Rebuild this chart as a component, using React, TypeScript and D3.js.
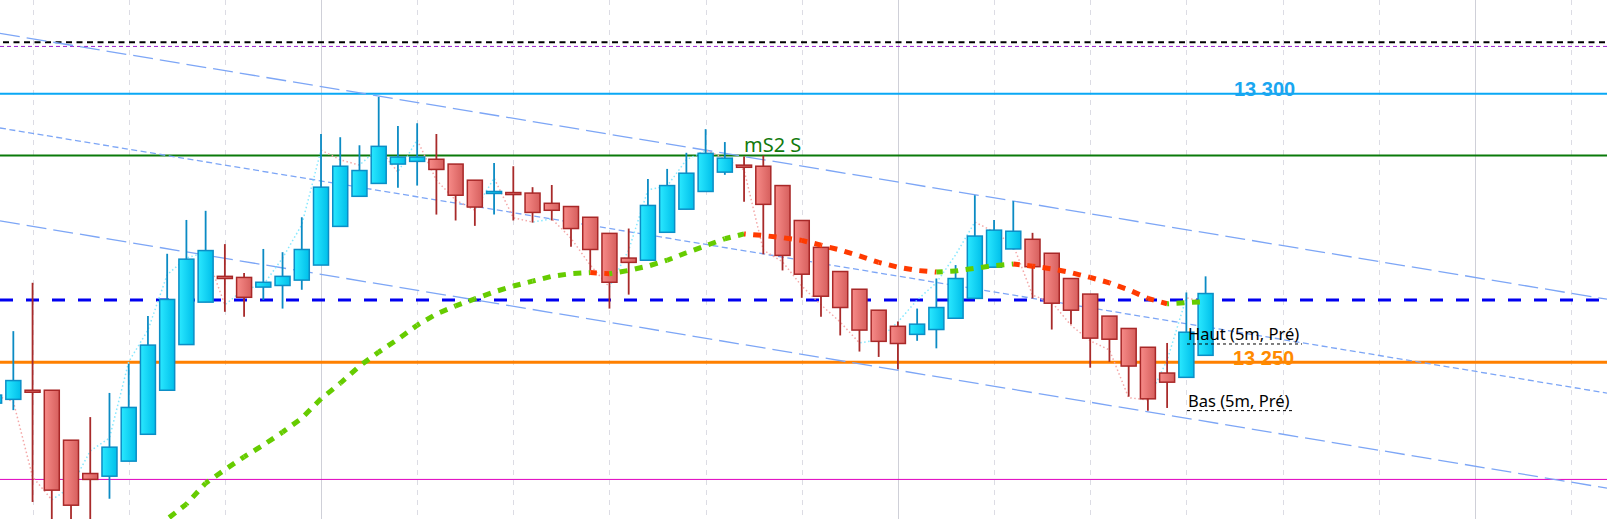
import React from "react";
import * as d3 from "d3";

const W = 1607;
const H = 519;

// candles, one per bar (index 0 = leftmost, partly cut)
const opens = [
  13242.4, 13243.1, 13244.8, 13244.8, 13235.5, 13229.3, 13228.8, 13231.6, 13236.6, 13244.8,
  13253.3, 13261.2, 13266.0, 13265.8, 13264.0, 13264.3, 13265.3, 13268.1, 13275.3, 13280.9,
  13283.3, 13286.9, 13287.4, 13287.8, 13286.9, 13283.9, 13281.5, 13281.6, 13281.5, 13279.6,
  13279.0, 13277.0, 13274.0, 13269.4, 13269.0, 13274.2, 13278.5, 13281.8, 13285.4, 13286.7,
  13286.5, 13282.9, 13276.4, 13271.4, 13266.9, 13263.6, 13259.7, 13256.7, 13255.2, 13256.1,
  13258.2, 13261.9, 13267.7, 13271.1, 13272.9, 13270.3, 13265.6, 13262.7, 13258.6, 13256.3,
  13252.8, 13248.0, 13247.2, 13251.3,
];
const highs = [
  13244.8, 13255.8, 13264.8, 13244.8, 13235.5, 13239.8, 13244.3, 13249.7, 13258.6, 13270.2,
  13276.5, 13278.2, 13272.0, 13266.6, 13271.1, 13270.5, 13277.0, 13292.5, 13291.9, 13290.4,
  13299.4, 13294.0, 13294.5, 13292.5, 13286.9, 13283.9, 13287.1, 13286.5, 13282.6, 13283.0,
  13279.0, 13277.0, 13274.0, 13274.9, 13284.1, 13286.0, 13289.0, 13293.4, 13291.0, 13288.3,
  13288.5, 13282.9, 13276.4, 13271.4, 13266.9, 13263.6, 13259.7, 13257.6, 13260.0, 13265.6,
  13268.1, 13281.1, 13276.5, 13280.0, 13274.1, 13270.3, 13265.6, 13262.7, 13258.6, 13256.3,
  13252.8, 13253.6, 13263.0, 13266.0,
];
const lows = [
  13241.5, 13241.1, 13224.0, 13219.7, 13218.8, 13219.7, 13224.6, 13231.6, 13236.6, 13244.8,
  13253.3, 13261.2, 13259.4, 13258.5, 13261.6, 13260.0, 13263.5, 13268.1, 13275.3, 13280.9,
  13283.3, 13282.5, 13282.9, 13277.5, 13276.4, 13275.4, 13277.5, 13276.4, 13276.0, 13276.4,
  13271.5, 13267.1, 13260.0, 13262.6, 13269.0, 13274.2, 13278.5, 13281.8, 13284.9, 13279.9,
  13270.1, 13267.1, 13262.0, 13258.5, 13255.0, 13252.0, 13251.0, 13248.7, 13254.0, 13252.6,
  13258.2, 13261.9, 13267.7, 13271.0, 13261.9, 13256.1, 13257.1, 13249.0, 13250.1, 13243.6,
  13241.0, 13241.5, 13247.2, 13251.3,
];
const closes = [
  13243.9, 13246.6, 13244.6, 13226.2, 13223.4, 13228.2, 13234.2, 13241.6, 13253.2, 13261.7,
  13269.2, 13270.8, 13265.6, 13262.1, 13264.9, 13266.0, 13271.0, 13282.6, 13286.5, 13285.7,
  13290.2, 13288.2, 13288.2, 13285.9, 13281.1, 13278.9, 13281.8, 13281.3, 13277.9, 13278.3,
  13274.9, 13271.0, 13264.9, 13268.6, 13279.2, 13282.9, 13285.2, 13288.9, 13288.0, 13286.3,
  13279.4, 13269.9, 13266.4, 13262.3, 13260.2, 13256.0, 13253.9, 13253.5, 13257.1, 13260.2,
  13265.6, 13273.5, 13274.6, 13274.4, 13267.8, 13261.0, 13259.7, 13254.5, 13254.3, 13249.3,
  13243.2, 13246.3, 13255.6, 13262.8,
];

// moving average, starts at bar 8
const maStart = 8;
const maValues = [
  13216.9, 13220.8, 13223.6, 13227.5, 13230.0, 13232.4, 13234.6, 13237.0, 13239.6, 13243.2,
  13246.1, 13249.3, 13251.9, 13254.3, 13256.9, 13259.0, 13260.5, 13261.8, 13263.1, 13264.2,
  13265.1, 13266.0, 13266.5, 13266.7, 13266.5, 13267.1, 13267.9, 13269.0, 13270.4, 13271.7,
  13273.0, 13273.9, 13273.6, 13273.2, 13272.7, 13271.8, 13270.9, 13269.8, 13268.6, 13267.7,
  13267.1, 13266.8, 13267.0, 13267.5, 13268.0, 13268.3, 13267.9, 13267.4, 13266.7, 13265.8,
  13264.8, 13263.5, 13261.9, 13260.9, 13261.1, 13261.3,
];

// thin dotted lower-timeframe line
const tickLine = [
  13243.9, 13242.7, 13228.7, 13224.4, 13226.8, 13233.5, 13235.9, 13250.1, 13256.0, 13266.3,
  13269.4, 13270.5, 13260.7, 13263.6, 13264.4, 13269.4, 13275.6, 13289.5, 13287.7, 13286.7,
  13289.9, 13285.4, 13291.4, 13283.9, 13280.2, 13278.3, 13284.3, 13276.9, 13276.1, 13276.7,
  13273.1, 13268.1, 13264.0, 13270.9, 13282.1, 13282.8, 13287.7, 13289.5, 13288.0, 13285.8,
  13270.9, 13268.7, 13264.2, 13260.7, 13257.5, 13253.6, 13254.2, 13257.5, 13261.6, 13264.8,
  13270.0, 13276.1, 13274.3, 13271.8, 13262.5, 13261.2, 13256.9, 13254.0, 13252.3, 13243.4,
  13243.0, 13250.4, 13262.0, 13261.2,
];

// horizontal levels
const levelPrices = [13309.6, 13308.8, 13300, 13288.5, 13261.6, 13250, 13228.2];

// channel lines: price at bar 0 and at bar 63
const channelStart = [13311.4, 13293.8, 13276.5];
const channelEnd = [13274.1, 13256.6, 13239.0];

const levelLabels = ["13 300", "13 250", "mS2 S"];
const markerLabels = ["Haut (5m, Pré)", "Bas (5m, Pré)"];
const markerPrices = [13253.5, 13241.1];

const x = d3.scaleLinear().domain([0, 83]).range([-5.9, -5.9 + 19.23 * 83]);
const y = d3.scaleLinear().domain([13250, 13300]).range([362.3, 93.7]);

const gridIdx = d3.range(2, 84, 5);

const levelStyles = [
  { stroke: "#000", w: 2, dash: "6 4.5" },
  { stroke: "#9b1fd0", w: 1, dash: "4 3" },
  { stroke: "#0aa8f5", w: 2, dash: null },
  { stroke: "#0a7a0a", w: 2, dash: null },
  { stroke: "#0000f0", w: 3, dash: "13 13" },
  { stroke: "#ff8000", w: 3, dash: null },
  { stroke: "#e000c0", w: 1, dash: null },
];

const channelDash = ["20 7", "6 3.5", "20 7"];

export default function App() {
  const barW = 15;
  const candles = opens.map((o, i) => ({ i, o, h: highs[i], l: lows[i], c: closes[i] }));

  const maPts = maValues.map((v, k) => [x(maStart + k), y(v)] as [number, number]);
  let acc = 0;
  const maSegs = maPts.slice(1).map((p, k) => {
    const a = maPts[k];
    const len = Math.hypot(p[0] - a[0], p[1] - a[1]);
    const seg = { a, b: p, off: acc, up: maValues[k + 1] >= maValues[k] };
    acc += len;
    return seg;
  });

  const tickPts = tickLine.map((v, i) => [x(i), y(v)] as [number, number]);
  let acc2 = 0;
  const tickSegs = tickPts.slice(1).map((p, k) => {
    const a = tickPts[k];
    const len = Math.hypot(p[0] - a[0], p[1] - a[1]);
    const seg = { a, b: p, off: acc2, up: tickLine[k + 1] >= tickLine[k] };
    acc2 += len;
    return seg;
  });

  const i0 = x.invert(0);
  const i1 = x.invert(W);

  return (
    <>
      <style>{`body{margin:0;overflow:hidden;background:#fff}`}</style>
      <svg width={W} height={H} style={{ display: "block" }} fontFamily="'Noto Sans', sans-serif">
        <defs>
          <linearGradient id="bull" x1="0" x2="1" y1="0" y2="0">
            <stop offset="0" stopColor="#2ae8ff" />
            <stop offset="1" stopColor="#00bfea" />
          </linearGradient>
          <linearGradient id="bear" x1="0" x2="1" y1="0" y2="0">
            <stop offset="0" stopColor="#f78b88" />
            <stop offset="1" stopColor="#d65f5d" />
          </linearGradient>
        </defs>
        <rect width={W} height={H} fill="#fff" />

        {gridIdx.map((g, k) => (
          <line
            key={"g" + g}
            x1={Math.round(x(g)) + 0.5}
            x2={Math.round(x(g)) + 0.5}
            y1={0}
            y2={H}
            stroke={k % 6 === 3 ? "#cfd0d8" : "#dcdce4"}
            strokeWidth={1}
            strokeDasharray={k % 6 === 3 ? undefined : "5 5"}
          />
        ))}

        {levelPrices.map((p, k) => {
          const s = levelStyles[k];
          return (
            <line
              key={"lv" + k}
              x1={k === 0 ? 3 : 0}
              x2={W}
              y1={y(p)}
              y2={y(p)}
              stroke={s.stroke}
              strokeWidth={s.w}
              strokeDasharray={s.dash || undefined}
            />
          );
        })}

        {channelStart.map((s, k) => {
          const e = channelEnd[k];
          const f = (i: number) => s + ((e - s) * i) / 63;
          return (
            <line
              key={"ch" + k}
              x1={x(i0)}
              y1={y(f(i0))}
              x2={x(i1)}
              y2={y(f(i1))}
              stroke="#7da6f6"
              strokeWidth={1.3}
              strokeDasharray={channelDash[k]}
            />
          );
        })}

        {tickSegs.map((s, k) => (
          <line
            key={"t" + k}
            x1={s.a[0]}
            y1={s.a[1]}
            x2={s.b[0]}
            y2={s.b[1]}
            stroke={s.up ? "#86e8ff" : "#f4a8a8"}
            strokeWidth={1.5}
            strokeDasharray="1.5 2.5"
            strokeDashoffset={s.off}
          />
        ))}

        {candles.map((d) => {
          const up = d.c >= d.o;
          const cx = x(d.i);
          const top = y(Math.max(d.o, d.c));
          const bot = y(Math.min(d.o, d.c));
          const hgt = Math.max(bot - top, 2);
          return (
            <g key={"c" + d.i}>
              <line
                x1={cx}
                x2={cx}
                y1={y(d.h)}
                y2={y(d.l)}
                stroke={up ? "#0b8bc4" : "#a82a2a"}
                strokeWidth={1.8}
              />
              <rect
                x={cx - barW / 2}
                y={top}
                width={barW}
                height={hgt}
                fill={up ? "url(#bull)" : "url(#bear)"}
                stroke={up ? "#0b8ec6" : "#a82828"}
                strokeWidth={1.5}
              />
            </g>
          );
        })}

        {maSegs.map((s, k) => (
          <line
            key={"m" + k}
            x1={s.a[0]}
            y1={s.a[1]}
            x2={s.b[0]}
            y2={s.b[1]}
            stroke={s.up ? "#66cc00" : "#ff3a00"}
            strokeWidth={5}
            strokeDasharray="8 7.5"
            strokeDashoffset={s.off}
          />
        ))}

        <text x={1234} y={96} fill="#1aa6f0" fontFamily="'Liberation Sans', Arial, sans-serif" fontWeight="bold" fontSize={20}>
          {levelLabels[0]}
        </text>
        <text x={1233} y={365} fill="#ff8a00" fontFamily="'Liberation Sans', Arial, sans-serif" fontWeight="bold" fontSize={20}>
          {levelLabels[1]}
        </text>
        <text x={744} y={151.5} fill="#127a0e" fontSize={20}>
          {levelLabels[2]}
        </text>

        {markerLabels.map((t, k) => {
          const yy = y(markerPrices[k]);
          return (
            <g key={"mk" + k}>
              <text x={1188} y={yy - 3.5} fill="#000" fontSize={16.5}>
                {t}
              </text>
              <line
                x1={1187}
                x2={k === 0 ? 1302 : 1294}
                y1={yy + 0.5}
                y2={yy + 0.5}
                stroke="#000"
                strokeWidth={1}
                strokeDasharray="3 3"
              />
            </g>
          );
        })}
      </svg>
    </>
  );
}
